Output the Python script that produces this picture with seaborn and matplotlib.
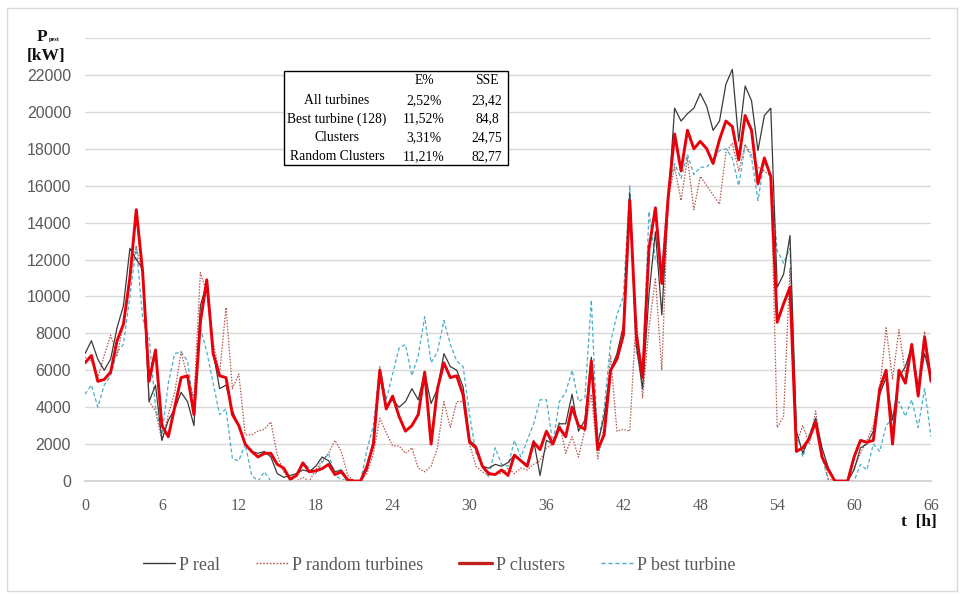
import numpy as np
import pandas as pd
import matplotlib
matplotlib.use("Agg")
import matplotlib.pyplot as plt
from matplotlib.lines import Line2D
from matplotlib.patches import Rectangle
import seaborn as sns

# ---- data (half-hour resolution, 0..66 h) ----
hours = np.arange(0, 66.01, 0.5)

p_real = [
    6900, 7600, 6600, 6000, 6600, 8300, 9500, 12600, 12000, 11500, 4300, 5200,
    2200, 3300, 3900, 4800, 4300, 3000, 9500, 10700, 7000, 5000, 5200, 3800,
    3000, 2000, 1600, 1500, 1600, 1300, 400, 200, 300, 400, 600, 500,
    800, 1300, 1100, 500, 600, 100, 0, 0, 600, 2200, 5600, 4100,
    4400, 4000, 4300, 5000, 4400, 5900, 4200, 5000, 6900, 6200, 6000, 5100,
    2200, 1900, 800, 700, 900, 800, 1000, 1400, 1100, 900, 2200, 300,
    2200, 2000, 3100, 3100, 4700, 2700, 3300, 6700, 2000, 3500, 6000, 6900,
    8400, 15600, 7400, 5000, 10100, 13500, 9000, 15200, 20200, 19500, 19900, 20200,
    21000, 20300, 19000, 19500, 21500, 22300, 18400, 21400, 20600, 17900, 19800, 20200,
    10500, 11200, 13300, 2700, 1500, 2400, 3400, 1800, 700, 0, 0, 0,
    600, 1800, 2000, 2700, 4700, 5600, 3300, 5600, 6200, 7300, 5000, 6900,
    5500]

p_random = [
    6700, 6500, 5600, 6800, 7900, 6800, 8500, 11000, 12700, 11200, 4300, 3800,
    2200, 3600, 4800, 7000, 5600, 4500, 11300, 10200, 7500, 5800, 9400, 5000,
    5800, 2500, 2500, 2700, 2800, 3200, 1400, 500, 100, 0, 200, 0,
    600, 1100, 1500, 2200, 1600, 300, 0, 0, 400, 1500, 3400, 2600,
    1900, 1900, 1500, 1800, 700, 500, 800, 1800, 4300, 2900, 4300, 4300,
    2000, 800, 500, 300, 400, 400, 700, 400, 700, 600, 900, 1100,
    1800, 2000, 3200, 1500, 2400, 1300, 2800, 4700, 1200, 3000, 6800, 2700,
    2800, 2700, 9000, 4500, 8300, 11000, 6000, 15300, 17000, 15200, 17500, 14700,
    16500, 16000, 15500, 15000, 17800, 18300, 16800, 18200, 17700, 17000, 16800, 16500,
    2900, 3500, 11500, 2000, 3000, 2000, 3800, 1500, 100, 0, 0, 0,
    700, 1500, 2200, 3000, 5000, 8300, 5500, 8200, 5800, 7200, 5200, 8100,
    5500]

p_clusters = [
    6400, 6800, 5400, 5500, 5900, 7600, 8500, 11000, 14700, 11300, 5400, 7100,
    3000, 2400, 4000, 5600, 5700, 3600, 8600, 10900, 6900, 5700, 5600, 3600,
    3000, 2000, 1600, 1300, 1500, 1500, 900, 700, 100, 300, 980, 500,
    550, 670, 900, 350, 500, 50, 0, 0, 800, 2000, 6000, 3900,
    4600, 3500, 2700, 3000, 3600, 5900, 2000, 5000, 6400, 5600, 5700, 4650,
    2100, 1800, 800, 400, 350, 600, 300, 1400, 1100, 800, 2100, 1700,
    2700, 2000, 2900, 2400, 4000, 3000, 2800, 6500, 1700, 2500, 6000, 6600,
    7900, 15200, 8000, 5600, 12600, 14800, 10700, 15400, 18800, 16800, 19000, 18000,
    18400, 18000, 17200, 18500, 19500, 19200, 17400, 19800, 19000, 16100, 17500, 16500,
    8600, 9600, 10500, 1600, 1800, 2300, 3200, 1300, 600, 0, 0, 0,
    1300, 2200, 2100, 2200, 5000, 6000, 2000, 6000, 5300, 7400, 4600, 7800,
    5400]

p_best = [
    4700, 5200, 4000, 5200, 5700, 7000, 7400, 10000, 12700, 8800, 7800, 4000,
    2500, 5300, 6900, 7000, 6500, 4000, 8300, 7000, 5300, 3600, 3900, 1200,
    1100, 2000, 300, 0, 500, 0, 0, 0, 0, 300, 1000, 700,
    400, 1000, 1500, 300, 100, 0, 0, 0, 1700, 3000, 6200, 4400,
    5800, 7200, 7400, 5700, 6800, 8900, 6400, 7000, 8700, 7400, 6500, 6200,
    3600, 1500, 800, 200, 1800, 900, 800, 2200, 1300, 2200, 3100, 4400,
    4400, 2000, 4300, 4800, 6000, 4300, 4500, 9800, 2000, 3900, 7500, 9000,
    10000, 16000, 7000, 5800, 14600, 12000, 11500, 15800, 17200, 16400, 17700, 16600,
    17000, 17000, 17400, 17900, 18000, 17500, 16000, 18200, 17500, 15200, 17300, 16600,
    12500, 11800, 12600, 2700, 1300, 2500, 3400, 1300, 0, 0, 0, 0,
    0, 900, 600, 2000, 1600, 3000, 3400, 4300, 3500, 4400, 2900, 5000,
    2400]

series_names = ["P real", "P random turbines", "P clusters", "P best turbine"]
x_ticks = list(range(0, 67, 6))
y_ticks = list(range(0, 22001, 2000))

table_rows = ["All turbines", "Best turbine (128)", "Clusters", "Random Clusters"]
table_cols = ["E%", "SSE"]
table_e = ["2,52%", "11,52%", "3,31%", "11,21%"]
table_sse = ["23,42", "84,8", "24,75", "82,77"]

# ---- figure ----
sns.set_style("white")
plt.rcParams["font.family"] = ["Liberation Serif", "DejaVu Serif"]

fig = plt.figure(figsize=(9.64, 5.96), dpi=100)
ax = fig.add_axes([85 / 964, 1 - 481 / 596, (931 - 85) / 964, (481 - 38) / 596])

df = pd.DataFrame({"t": hours, "P real": p_real, "P random turbines": p_random,
                   "P clusters": p_clusters, "P best turbine": p_best})

styles = {
    "P real": dict(color="#3a3a3a", lw=0.9, ls="-", z=3),
    "P random turbines": dict(color="#b5594f", lw=0.9, ls=(0, (1.2, 1.2)), z=2),
    "P clusters": dict(color="#e8000b", lw=2.1, ls="-", z=4),
    "P best turbine": dict(color="#4aaec8", lw=0.9, ls=(0, (3, 2)), z=1),
}

for name in series_names:
    st = styles[name]
    sns.lineplot(data=df, x="t", y=name, ax=ax, color=st["color"],
                 linewidth=st["lw"], linestyle=st["ls"], zorder=st["z"],
                 legend=False)

ax.set_xlim(0, 66)
ax.set_ylim(0, 24000)
ax.set_yticks(list(range(0, 24001, 2000)))
ax.set_yticklabels([str(v) for v in y_ticks] + [""])
ax.set_xticks(x_ticks)
ax.set_xticklabels([str(v) for v in x_ticks])
ax.grid(axis="y", color="#d9d9d9", linewidth=1.0)
ax.set_axisbelow(True)
for side in ["left", "right", "top"]:
    ax.spines[side].set_visible(False)
ax.spines["bottom"].set_color("#d0d0d0")
ax.spines["bottom"].set_linewidth(1.2)
ax.tick_params(axis="both", length=0)
ax.tick_params(axis="y", pad=10, labelsize=11.5, labelcolor="#595959")
ax.tick_params(axis="x", pad=12, labelsize=11.5, labelcolor="#595959")
for lab in ax.get_yticklabels():
    lab.set_fontfamily(["Liberation Sans", "DejaVu Sans"])
ax.set_xlabel("")
ax.set_ylabel("")

# axis titles
fig.text(37 / 964, 1 - 37 / 596, "P", fontsize=12.5, fontweight="bold",
         color="#111111", ha="left", va="center")
fig.text(49 / 964, 1 - 40 / 596, "pest", fontsize=4.5, fontweight="bold",
         color="#111111", ha="left", va="center")
fig.text(27 / 964, 1 - 56 / 596, "[kW]", fontsize=12.5, fontweight="bold",
         color="#111111", ha="left", va="center")
fig.text(937 / 964, 1 - 522 / 596, "t  [h]", fontsize=12.5, fontweight="bold",
         color="#111111", ha="right", va="center")

# error table
x0, y0, x1, y1 = 284, 71, 508, 165
fig.patches.append(Rectangle((x0 / 964, 1 - y1 / 596), (x1 - x0) / 964,
                             (y1 - y0) / 596, transform=fig.transFigure,
                             facecolor="white", edgecolor="black",
                             linewidth=1.0, zorder=10))
col_x = [337, 424, 487]
row_y = [81, 101, 119, 138, 157]
for j, c in enumerate(table_cols):
    fig.text(col_x[j + 1] / 964, 1 - row_y[0] / 596, c, fontsize=9.8,
             ha="center", va="center", color="black", zorder=11)
for i, r in enumerate(table_rows):
    yy = 1 - row_y[i + 1] / 596
    fig.text(col_x[0] / 964, yy, r, fontsize=9.8, ha="center", va="center",
             color="black", zorder=11)
    fig.text(col_x[1] / 964, yy, table_e[i], fontsize=9.8, ha="center",
             va="center", color="black", zorder=11)
    fig.text(col_x[2] / 964, yy, table_sse[i], fontsize=9.8, ha="center",
             va="center", color="black", zorder=11)

# legend
handles = [
    Line2D([], [], color="#3a3a3a", lw=1.0, ls="-"),
    Line2D([], [], color="#b5594f", lw=1.0, ls=(0, (1.2, 1.2))),
    Line2D([], [], color="#c0201a", lw=2.4, ls="-"),
    Line2D([], [], color="#4aaec8", lw=1.0, ls=(0, (3, 2))),
]
leg = fig.legend(handles, series_names, loc="center", ncol=4,
                 bbox_to_anchor=(439 / 964, 1 - 565 / 596), frameon=False,
                 fontsize=13, handlelength=1.8, handletextpad=0.2,
                 columnspacing=2.0, labelcolor="#595959")

# outer border
fig.patches.append(Rectangle((7 / 964, 5 / 596), 950 / 964, 583 / 596,
                             transform=fig.transFigure, fill=False,
                             edgecolor="#d9d9d9", linewidth=1.0))

fig.savefig("out.png", dpi=100)
